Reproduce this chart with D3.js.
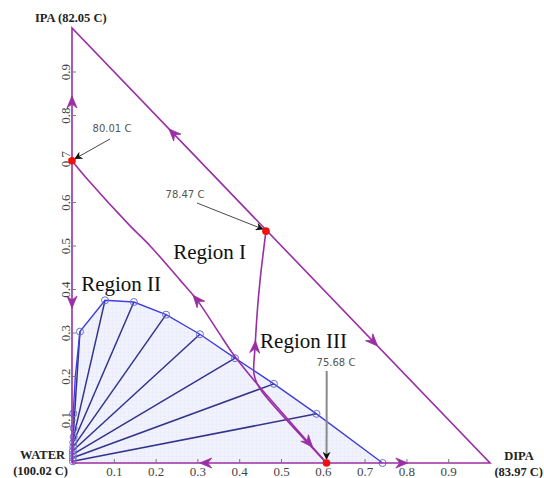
<!doctype html>
<html lang="en">
<head>
  <meta charset="utf-8">
  <title>Ternary diagram</title>
  <script src="https://cdn.jsdelivr.net/npm/d3@7"></script>
  <style>
    body { margin: 0; background: #fff; }
    svg text { font-family: "Liberation Serif", "Times New Roman", serif; }
  </style>
</head>
<body>
<svg id="chart"></svg>
<script>
  'use strict';

  var WIDTH = 544;
  var HEIGHT = 478;

  // tick labels
  var ticks = [0.1, 0.2, 0.3, 0.4, 0.5, 0.6, 0.7, 0.8, 0.9];

  // corners: name, boiling point
  var cornerNames = ["WATER", "DIPA", "IPA"];
  var cornerTemps = ["(100.02 C)", "(83.97 C)", "(82.05 C)"];

  // azeotropes (x = DIPA, y = IPA)
  var azeoX = [0, 0.464, 0.609];
  var azeoY = [0.695, 0.533, 0];
  var azeoText = ["80.01 C", "78.47 C", "75.68 C"];

  // distillation boundaries
  var boundAX = [0, 0.038, 0.139, 0.187, 0.258, 0.299, 0.347, 0.385, 0.419, 0.455, 0.609];
  var boundAY = [0.695, 0.651, 0.545, 0.499, 0.421, 0.375, 0.306, 0.251, 0.209, 0.168, 0];
  var boundBX = [0.464, 0.450, 0.443, 0.438, 0.435, 0.442, 0.457, 0.609];
  var boundBY = [0.533, 0.421, 0.345, 0.267, 0.207, 0.184, 0.161, 0];

  // liquid-liquid envelope: organic phase and aqueous phase of each tie line
  var orgX = [0.585, 0.483, 0.390, 0.306, 0.225, 0.148, 0.079, 0.019];
  var orgY = [0.113, 0.182, 0.241, 0.296, 0.341, 0.370, 0.374, 0.302];
  var aqX = [0.002, 0.002, 0.002, 0.002, 0.003, 0.003, 0.004, 0.004];
  var aqY = [0.004, 0.012, 0.020, 0.028, 0.037, 0.047, 0.060, 0.080];
  // other envelope points
  var envEndX = [0.743];
  var envEndY = [0];
  var envMidX = [0.008, 0.003];
  var envMidY = [0.200, 0.114];

  // flow arrows: where, and the point they head for
  var arrowAt = [[0, 0.83], [0, 0.37], [0.242, 0.758], [0.721, 0.279], [0.32, 0], [0.789, 0],
                 [0.299, 0.375], [0.438, 0.267], [0.566, 0.047]];
  var arrowTo = [[0, 1], [0, 0], [0, 1], [1, 0], [0, 0], [1, 0],
                 [0.258, 0.421], [0.443, 0.345], [0.609, 0]];

  var regionNames = ["Region I", "Region II", "Region III"];
  var regionX = [0.242, 0.022, 0.45];
  var regionY = [0.468, 0.396, 0.264];

  var PURPLE = "#9a2ea4";
  var BLUE = "#3f3fdc";
  var TIE = "#33338a";

  var svg = d3.select("#chart").attr("width", WIDTH).attr("height", HEIGHT);

  var x = d3.scaleLinear().domain([0, 1]).range([72, 490]);
  var y = d3.scaleLinear().domain([0, 1]).range([463, 28]);

  var defs = svg.append("defs");
  var pat = defs.append("pattern").attr("id", "grid").attr("patternUnits", "userSpaceOnUse")
    .attr("width", 4).attr("height", 4);
  pat.append("rect").attr("width", 4).attr("height", 4).attr("fill", "#f1f2fc");
  pat.append("path").attr("d", "M4,0 L0,0 L0,4").attr("fill", "none").attr("stroke", "#e1e4f6").attr("stroke-width", 0.6);

  defs.append("marker").attr("id", "tip").attr("viewBox", "0 0 10 10")
    .attr("refX", 9).attr("refY", 5).attr("markerWidth", 8).attr("markerHeight", 8)
    .attr("markerUnits", "userSpaceOnUse").attr("orient", "auto")
    .append("path").attr("d", "M0,0 L10,5 L0,10 L3,5 Z").attr("fill", "#111");

  var line = d3.line().x(function(d){ return x(d[0]); }).y(function(d){ return y(d[1]); });
  var curve = d3.line().x(function(d){ return x(d[0]); }).y(function(d){ return y(d[1]); }).curve(d3.curveCatmullRom);

  function zip(a, b) { return a.map(function(v, i){ return [v, b[i]]; }); }

  // envelope
  var org = zip(orgX, orgY);
  var aq = zip(aqX, aqY).reverse();
  var env = [[envEndX[0], envEndY[0]]].concat(org, zip(envMidX, envMidY), aq, [[0, 0]]);

  svg.append("path").datum(env.concat([[envEndX[0], envEndY[0]]]))
    .attr("d", line).attr("fill", "url(#grid)").attr("stroke", "none");

  // tie lines
  svg.append("g").selectAll("line").data(org).enter().append("line")
    .attr("x1", function(d){ return x(d[0]); }).attr("y1", function(d){ return y(d[1]); })
    .attr("x2", function(d, i){ return x(aqX[i]); }).attr("y2", function(d, i){ return y(aqY[i]); })
    .attr("stroke", TIE).attr("stroke-width", 1.5);

  svg.append("path").datum(env).attr("d", line)
    .attr("fill", "none").attr("stroke", BLUE).attr("stroke-width", 1.4);

  var circ = org.concat(zip(aqX, aqY), zip(envEndX, envEndY), [[envMidX[1], envMidY[1]]]);
  svg.append("g").selectAll("circle").data(circ).enter().append("circle")
    .attr("cx", function(d){ return x(d[0]); }).attr("cy", function(d){ return y(d[1]); })
    .attr("r", 3.5).attr("fill", "none").attr("stroke", "#6b6bd6").attr("stroke-width", 1);

  // triangle
  svg.append("path").datum([[0, 0], [1, 0], [0, 1], [0, 0]]).attr("d", line)
    .attr("fill", "none").attr("stroke", PURPLE).attr("stroke-width", 1.6);

  // boundaries
  svg.append("path").datum(zip(boundAX, boundAY)).attr("d", curve)
    .attr("fill", "none").attr("stroke", PURPLE).attr("stroke-width", 1.6);
  svg.append("path").datum(zip(boundBX, boundBY)).attr("d", curve)
    .attr("fill", "none").attr("stroke", PURPLE).attr("stroke-width", 1.6);

  // flow arrows
  svg.append("g").selectAll("path").data(arrowAt).enter().append("path")
    .attr("d", "M6,0 L-6,-5 L-2,0 L-6,5 Z")
    .attr("fill", PURPLE).attr("stroke", PURPLE).attr("stroke-width", 0.8)
    .attr("transform", function(d, i){
      var t = arrowTo[i];
      var a = Math.atan2(y(t[1]) - y(d[1]), x(t[0]) - x(d[0])) * 180 / Math.PI;
      return "translate(" + x(d[0]) + "," + y(d[1]) + ") rotate(" + a + ")";
    });

  // axes
  var xAxis = svg.append("g").attr("transform", "translate(0," + y(0) + ")")
    .call(d3.axisBottom(x).tickValues(ticks).tickSize(-4).tickPadding(4).tickFormat(d3.format(".1f")));
  xAxis.select(".domain").remove();
  xAxis.selectAll("line").attr("stroke", "#777");
  xAxis.selectAll("text").attr("font-size", 13).attr("fill", "#444")
    .attr("font-family", "Liberation Serif, serif");

  var yAxis = svg.append("g").attr("transform", "translate(" + x(0) + ",0)")
    .call(d3.axisLeft(y).tickValues(ticks).tickSize(-4).tickFormat(d3.format(".1f")));
  yAxis.select(".domain").remove();
  yAxis.selectAll("line").attr("stroke", "#777");
  yAxis.selectAll("text").attr("font-size", 13).attr("fill", "#444")
    .attr("font-family", "Liberation Serif, serif")
    .attr("transform", "rotate(-90)").attr("text-anchor", "middle")
    .attr("x", 0).attr("y", -2).attr("dy", 0);

  // azeotrope annotations
  var notePos = [[112, 132], [185, 198], [336, 366]];
  var noteFrom = [[110, 139], [197, 203], [326.7, 371]];
  var ann = svg.append("g");
  azeoText.forEach(function(t, i){
    ann.append("line").attr("x1", noteFrom[i][0]).attr("y1", noteFrom[i][1])
      .attr("x2", x(azeoX[i]) + (i == 0 ? 3 : (i == 1 ? -3 : 0)))
      .attr("y2", y(azeoY[i]) + (i == 2 ? -4 : -2))
      .attr("stroke", i == 2 ? "#8a8a8a" : "#333").attr("stroke-width", i == 2 ? 2 : 0.9)
      .attr("marker-end", "url(#tip)");
    ann.append("text").attr("x", notePos[i][0]).attr("y", notePos[i][1])
      .attr("text-anchor", "middle").attr("font-size", 10).attr("fill", "#555")
      .style("font-family", "DejaVu Sans, sans-serif").text(t);
  });

  svg.append("g").selectAll("circle").data(zip(azeoX, azeoY)).enter().append("circle")
    .attr("cx", function(d){ return x(d[0]); }).attr("cy", function(d){ return y(d[1]); })
    .attr("r", 3.8).attr("fill", "#f01010");

  // region labels
  svg.append("g").selectAll("text").data(regionNames).enter().append("text")
    .attr("x", function(d, i){ return x(regionX[i]); }).attr("y", function(d, i){ return y(regionY[i]); })
    .attr("font-size", 21).attr("fill", "#111").text(function(d){ return d; });

  // corner labels
  var cl = svg.append("g").attr("font-size", 12.5).attr("font-weight", "bold").attr("fill", "#222");
  cl.append("text").attr("x", 65).attr("y", 459).attr("text-anchor", "end").text(cornerNames[0]);
  cl.append("text").attr("x", 68).attr("y", 475).attr("text-anchor", "end").text(cornerTemps[0]);
  cl.append("text").attr("x", 519).attr("y", 460).attr("text-anchor", "middle").text(cornerNames[1]);
  cl.append("text").attr("x", 543).attr("y", 476).attr("text-anchor", "end").text(cornerTemps[1]);
  cl.append("text").attr("x", 35).attr("y", 22).text(cornerNames[2] + " " + cornerTemps[2]);
</script>
</body>
</html>
